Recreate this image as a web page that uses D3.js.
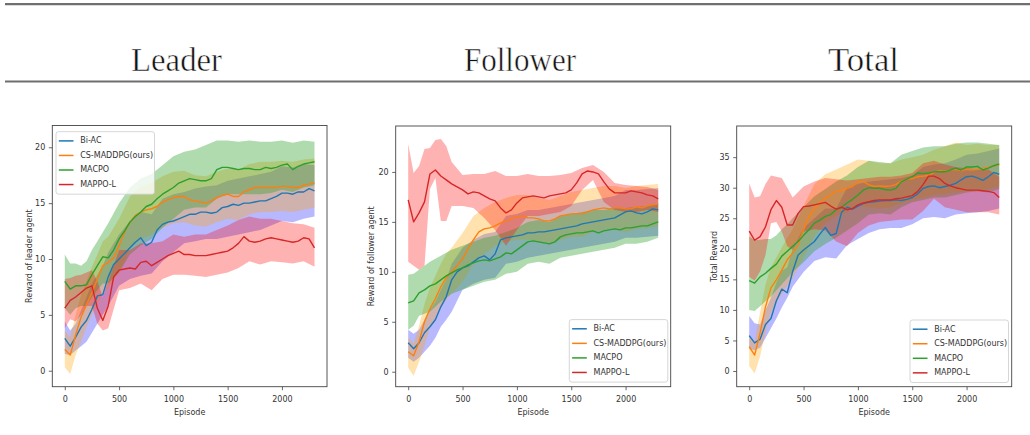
<!DOCTYPE html>
<html>
<head>
<meta charset="utf-8">
<script src="https://cdn.jsdelivr.net/npm/d3@7"></script>
<style>
  html, body { margin: 0; padding: 0; background: #ffffff; }
  svg { display: block; }
</style>
</head>
<body>
<svg id="chart" width="1030" height="435"></svg>
<script>
// ---------------------------------------------------------------
// Data
// ---------------------------------------------------------------
const seriesNames = ["Bi-AC", "CS-MADDPG(ours)", "MACPO", "MAPPO-L"];
const panelTitles = ["Leader", "Follower", "Total"];
const yLabels = ["Reward of leader agent", "Reward of follower agent", "Total Reward"];

const xTicks = [0, 500, 1000, 1500, 2000];
const yTicksLeader = [0, 5, 10, 15, 20];
const yTicksFollower = [0, 5, 10, 15, 20];
const yTicksTotal = [0, 5, 10, 15, 20, 25, 30, 35];

// episodes at which the smoothed means are sampled
const episodes = [0, 50, 100, 150, 200, 250, 300, 350, 400, 450, 500, 550, 600, 650, 700, 750,
  800, 850, 900, 950, 1000, 1050, 1100, 1150, 1200, 1250, 1300, 1350, 1400, 1450, 1500, 1550,
  1600, 1650, 1700, 1750, 1800, 1850, 1900, 1950, 2000, 2050, 2100, 2150, 2200, 2250, 2300];

// episodes at which the spread bands are sampled
const bandEpisodes = [0, 50, 100, 150, 200, 250, 300, 350, 400, 500, 600, 700, 800, 900, 1000,
  1100, 1200, 1300, 1400, 1500, 1600, 1700, 1800, 1900, 2000, 2100, 2200, 2300];

// ---- Leader ----
const leaderBiAC = [2.9, 2.2, 3.0, 3.9, 4.5, 5.5, 6.7, 6.8, 8.4, 9.5, 10.0, 10.5, 11.0, 11.5, 11.9, 11.2,
  11.5, 12.6, 13.1, 13.3, 13.4, 13.6, 13.8, 14.0, 14.0, 14.2, 14.2, 14.1, 14.2, 14.6, 14.7, 14.9,
  14.8, 15.0, 15.0, 15.1, 15.2, 15.2, 15.4, 15.6, 15.9, 15.9, 15.8, 16.0, 16.0, 16.3, 16.1];
const leaderCS = [1.9, 1.4, 3.2, 4.8, 5.9, 7.0, 8.2, 9.4, 9.7, 10.1, 11.2, 12.4, 13.3, 13.9, 14.2, 14.4,
  14.5, 14.7, 15.1, 15.3, 15.5, 15.6, 15.6, 15.3, 15.2, 15.1, 15.0, 15.2, 15.5, 15.7, 15.8, 15.6,
  15.6, 16.0, 16.2, 16.4, 16.4, 16.4, 16.4, 16.4, 16.5, 16.5, 16.4, 16.4, 16.6, 16.7, 16.8];
const leaderMACPO = [8.0, 7.3, 7.6, 7.6, 7.7, 8.6, 9.4, 10.2, 10.1, 10.8, 11.8, 12.5, 13.3, 13.8, 14.2, 14.7,
  14.9, 15.4, 15.8, 16.1, 16.4, 16.8, 17.0, 17.2, 17.1, 17.0, 17.0, 17.2, 18.0, 18.2, 18.2, 18.1,
  18.0, 18.1, 18.1, 18.0, 18.0, 18.2, 18.1, 18.2, 18.4, 18.5, 18.0, 18.3, 18.5, 18.6, 18.7];
const leaderMAPPO = [5.6, 6.3, 6.6, 7.0, 7.4, 7.6, 5.6, 4.5, 5.8, 8.4, 9.0, 9.1, 9.2, 9.1, 9.7, 9.8,
  9.4, 9.7, 10.0, 10.3, 10.5, 10.7, 10.4, 10.4, 10.3, 10.3, 10.3, 10.4, 10.5, 10.6, 10.7, 11.0,
  11.4, 12.0, 11.6, 11.5, 11.6, 11.8, 11.9, 11.8, 11.7, 11.6, 11.5, 11.6, 11.9, 11.8, 11.0];

const leaderBiACLow = [1.5, 1.4, 1.8, 2.2, 2.6, 3.4, 4.2, 5.0, 5.8, 7.6, 8.2, 8.5, 8.7, 9.8, 10.6,
  11.4, 11.6, 11.8, 11.8, 12.0, 12.2, 12.4, 12.6, 13.0, 13.4, 13.3, 13.6, 13.8];
const leaderBiACHigh = [4.4, 3.6, 4.2, 5.4, 6.6, 7.8, 8.6, 9.4, 10.6, 12.2, 13.4, 14.2, 14.0, 15.4, 15.8,
  16.0, 16.3, 16.5, 16.6, 17.0, 17.2, 17.4, 17.6, 17.8, 18.3, 18.2, 18.5, 18.4];
const leaderCSLow = [0.3, -0.3, 1.4, 2.6, 3.9, 5.0, 6.0, 7.0, 7.4, 8.8, 10.9, 11.8, 12.2, 12.8, 13.2,
  13.3, 13.0, 12.9, 13.3, 13.6, 13.5, 14.0, 14.2, 14.2, 14.3, 14.2, 14.4, 14.6];
const leaderCSHigh = [3.6, 3.0, 5.0, 6.8, 8.0, 9.3, 10.4, 11.6, 12.0, 13.6, 15.6, 16.5, 16.8, 17.4, 17.8,
  17.9, 17.5, 17.4, 17.8, 18.1, 18.0, 18.5, 18.7, 18.7, 18.8, 18.7, 18.9, 19.0];
const leaderMACPOLow = [5.6, 5.0, 5.6, 5.8, 5.8, 6.6, 7.2, 7.8, 7.8, 8.8, 10.4, 11.2, 11.8, 12.8, 13.6,
  14.4, 14.6, 14.6, 15.4, 15.8, 15.8, 15.8, 15.8, 15.9, 16.2, 16.0, 16.4, 16.6];
const leaderMACPOHigh = [10.4, 9.6, 9.6, 9.4, 9.8, 10.8, 11.6, 12.4, 13.2, 15.0, 16.4, 17.2, 17.6, 18.4, 19.2,
  19.6, 19.8, 20.2, 20.6, 20.6, 20.5, 20.6, 20.5, 20.5, 20.6, 20.4, 20.6, 20.5];
const leaderMAPPOLow = [3.8, 4.6, 4.4, 5.0, 5.8, 5.8, 4.2, 3.6, 3.8, 7.2, 7.4, 7.8, 7.2, 8.2, 8.6,
  8.6, 8.5, 8.4, 8.6, 8.8, 9.2, 9.8, 9.5, 9.8, 9.7, 9.6, 9.8, 9.3];
const leaderMAPPOHigh = [8.2, 8.3, 8.5, 8.6, 8.8, 9.0, 8.0, 6.6, 8.0, 10.8, 10.8, 11.4, 11.4, 11.6, 12.2,
  12.0, 12.2, 12.2, 12.6, 13.0, 13.5, 13.8, 13.6, 13.6, 13.4, 13.2, 13.1, 12.8];

// ---- Follower ----
const followerBiAC = [2.9, 2.3, 2.9, 3.9, 4.5, 5.2, 6.5, 7.5, 9.2, 10.0, 10.4, 10.6, 11.0, 11.4, 11.6, 11.2,
  11.8, 13.2, 13.4, 13.5, 13.6, 13.7, 13.9, 13.9, 14.0, 14.0, 14.1, 14.2, 14.3, 14.4, 14.5, 14.6,
  14.8, 14.9, 15.0, 15.1, 15.2, 15.3, 15.4, 15.7, 16.0, 16.1, 15.9, 15.8, 16.0, 16.3, 16.2];
const followerCS = [2.0, 1.6, 3.0, 5.0, 6.3, 7.3, 8.5, 9.4, 10.0, 10.6, 11.3, 12.3, 13.2, 14.0, 14.3, 14.4,
  14.6, 14.9, 15.1, 15.3, 15.5, 15.6, 15.4, 15.4, 15.3, 15.1, 15.1, 15.3, 15.6, 15.7, 15.8, 15.8,
  15.8, 16.0, 16.2, 16.3, 16.4, 16.3, 16.4, 16.4, 16.3, 16.3, 16.5, 16.4, 16.6, 16.7, 16.8];
const followerMACPO = [6.9, 7.1, 7.9, 8.2, 8.6, 8.8, 9.2, 9.6, 9.9, 10.2, 10.4, 10.7, 10.9, 11.1, 11.2, 11.1,
  11.3, 11.5, 11.9, 11.8, 12.2, 12.6, 13.0, 13.1, 13.0, 12.9, 12.8, 13.0, 13.5, 13.7, 13.8, 13.9,
  13.9, 14.0, 14.1, 13.9, 14.1, 14.2, 14.3, 14.2, 14.4, 14.4, 14.5, 14.6, 14.6, 14.8, 15.0];
const followerMAPPO = [17.2, 15.0, 15.9, 17.0, 19.8, 20.2, 19.6, 19.2, 18.8, 18.5, 18.2, 17.8, 18.0, 17.9, 17.6, 17.3,
  17.1, 16.4, 15.9, 16.2, 16.9, 17.4, 17.5, 17.6, 17.5, 17.4, 17.6, 17.7, 17.8, 17.9, 18.2, 18.9,
  19.8, 20.1, 20.0, 19.8, 19.0, 18.3, 17.9, 17.9, 17.9, 18.1, 18.0, 17.9, 17.7, 17.6, 17.3];

const followerBiACLow = [1.4, 1.0, 1.4, 2.0, 2.6, 3.4, 4.5, 5.2, 6.0, 8.2, 8.8, 9.2, 9.4, 10.8, 11.0,
  11.4, 11.6, 11.8, 12.0, 12.2, 12.4, 12.6, 12.8, 13.0, 13.4, 13.4, 13.5, 13.6];
const followerBiACHigh = [4.2, 3.8, 4.2, 5.2, 6.2, 7.0, 8.2, 9.2, 10.8, 12.4, 13.2, 13.8, 14.0, 15.6, 15.8,
  16.2, 16.2, 16.4, 16.6, 16.8, 17.0, 17.2, 17.4, 17.6, 18.2, 18.2, 18.3, 18.4];
const followerCSLow = [0.4, -0.4, 1.0, 2.6, 4.4, 5.4, 6.4, 7.2, 7.8, 9.0, 10.8, 11.8, 12.6, 13.0, 13.2,
  13.2, 13.0, 12.8, 13.2, 13.5, 13.5, 14.0, 14.2, 14.3, 14.0, 14.3, 14.4, 14.6];
const followerCSHigh = [3.4, 2.8, 4.6, 6.8, 8.4, 9.6, 10.8, 11.8, 12.4, 13.9, 15.6, 16.4, 17.0, 17.4, 17.7,
  17.7, 17.4, 17.2, 17.6, 18.0, 18.2, 18.4, 18.6, 18.6, 18.4, 18.6, 18.7, 18.8];
const followerMACPOLow = [4.2, 4.6, 5.6, 5.8, 6.0, 6.5, 7.0, 7.4, 7.8, 8.2, 8.6, 9.0, 9.2, 9.8, 10.0,
  10.8, 11.0, 10.8, 11.4, 11.6, 11.8, 12.0, 12.2, 12.4, 12.8, 12.8, 13.0, 13.4];
const followerMACPOHigh = [9.7, 9.8, 10.2, 10.6, 11.0, 11.3, 11.6, 11.9, 12.2, 12.6, 13.0, 13.4, 13.6, 14.0, 14.4,
  15.0, 15.2, 15.0, 15.6, 15.8, 16.0, 16.2, 16.2, 16.4, 16.4, 16.5, 16.6, 16.8];
const followerMAPPOLow = [11.0, 10.6, 10.2, 10.6, 18.3, 19.4, 15.1, 15.1, 16.6, 16.6, 16.4, 15.4, 14.2, 12.6, 14.2,
  15.6, 15.6, 15.8, 16.0, 16.6, 18.2, 19.2, 17.0, 16.2, 16.0, 16.0, 16.2, 16.0];
const followerMAPPOHigh = [22.8, 19.9, 20.6, 22.3, 22.4, 23.2, 23.3, 22.6, 21.0, 19.7, 19.8, 19.8, 20.1, 19.6, 19.6,
  19.8, 19.6, 19.6, 19.7, 19.9, 20.4, 20.7, 20.0, 18.9, 18.7, 18.6, 18.5, 18.2];

// ---- Total ----
const totalBiAC = [5.8, 4.6, 5.2, 7.6, 8.6, 11.5, 13.4, 12.8, 16.3, 19.0, 19.8, 20.5, 21.2, 22.4, 23.5, 22.2,
  22.5, 26.0, 26.8, 26.5, 27.0, 27.4, 27.6, 27.7, 27.8, 27.9, 27.9, 28.0, 27.9, 28.1, 28.4, 29.0,
  29.9, 30.2, 30.3, 30.0, 30.2, 30.4, 30.7, 31.3, 31.8, 31.9, 31.6, 31.2, 31.8, 32.5, 32.2];
const totalCS = [4.0, 2.6, 6.2, 10.5, 13.6, 14.9, 16.5, 18.2, 19.3, 20.6, 23.1, 25.3, 26.6, 27.5, 28.3, 28.8,
  29.4, 29.5, 29.9, 30.2, 31.0, 31.0, 30.5, 30.2, 30.3, 30.2, 30.3, 30.5, 31.1, 31.4, 31.5, 31.8,
  31.9, 32.0, 32.5, 32.8, 32.7, 32.9, 33.0, 32.8, 33.0, 32.9, 33.0, 33.2, 33.3, 33.6, 33.8];
const totalMACPO = [14.8, 14.4, 15.4, 16.0, 16.8, 17.5, 18.8, 19.6, 20.4, 21.2, 22.2, 23.1, 24.2, 24.7, 25.3, 25.6,
  26.4, 26.8, 27.5, 28.1, 28.8, 29.6, 30.0, 29.9, 29.9, 29.7, 29.6, 29.9, 31.0, 31.4, 31.8, 32.4,
  32.3, 32.4, 32.6, 32.6, 32.6, 32.9, 33.2, 32.9, 33.4, 33.4, 33.5, 32.9, 33.2, 33.6, 33.9];
const totalMAPPO = [22.9, 21.4, 22.0, 23.6, 26.4, 27.9, 26.8, 23.9, 23.9, 25.8, 26.9, 27.0, 27.2, 27.4, 27.6, 27.0,
  26.5, 26.8, 26.4, 26.6, 27.2, 27.5, 27.7, 27.9, 28.0, 28.0, 28.0, 28.2, 28.3, 28.5, 28.7, 29.4,
  30.5, 31.9, 31.9, 31.5, 30.7, 30.3, 30.0, 29.8, 29.6, 29.6, 29.6, 29.5, 29.4, 29.2, 28.4];

const totalBiACLow = [3.6, 3.4, 3.8, 5.4, 7.0, 8.6, 10.4, 12.0, 13.8, 16.2, 18.0, 18.6, 18.4, 20.6, 21.6,
  22.6, 23.2, 23.4, 23.4, 24.0, 25.0, 25.2, 25.0, 25.6, 25.8, 26.0, 26.2, 26.6];
const totalBiACHigh = [9.0, 7.8, 7.6, 10.0, 12.0, 14.5, 16.4, 17.0, 20.0, 23.4, 25.0, 26.6, 26.6, 30.0, 30.6,
  31.0, 31.2, 31.4, 31.6, 32.0, 33.4, 33.8, 34.0, 34.6, 35.4, 35.6, 36.0, 36.4];
const totalCSLow = [0.8, -0.4, 2.4, 6.4, 9.6, 11.2, 12.6, 14.0, 15.2, 18.6, 22.0, 24.2, 25.4, 26.0, 27.0,
  26.8, 26.6, 26.8, 27.4, 28.0, 28.4, 28.8, 29.0, 29.2, 29.4, 29.4, 29.8, 30.2];
const totalCSHigh = [5.6, 4.8, 9.6, 14.2, 17.0, 18.6, 20.2, 21.8, 23.2, 27.0, 30.6, 32.2, 33.0, 33.8, 34.6,
  34.4, 34.0, 34.0, 34.6, 35.0, 35.4, 36.2, 36.8, 37.4, 37.0, 37.2, 37.0, 37.0];
const totalMACPOLow = [10.0, 9.8, 10.6, 11.4, 12.2, 13.2, 14.2, 15.2, 16.2, 17.8, 19.6, 20.8, 21.8, 23.0, 24.2,
  25.6, 25.8, 25.6, 26.8, 27.6, 28.0, 28.4, 28.4, 28.8, 29.2, 29.4, 29.2, 29.8];
const totalMACPOHigh = [22.0, 21.4, 21.5, 21.6, 21.6, 22.2, 23.2, 24.0, 25.0, 26.8, 28.6, 29.8, 31.0, 32.0, 33.4,
  34.4, 34.2, 34.0, 35.4, 36.0, 36.6, 36.8, 36.8, 37.2, 37.4, 37.4, 37.2, 37.0];
const totalMAPPOLow = [15.4, 14.8, 16.3, 19.0, 24.2, 24.4, 22.8, 20.4, 19.8, 22.8, 23.2, 23.0, 21.2, 20.4, 22.6,
  23.8, 24.4, 24.6, 24.8, 24.8, 26.2, 28.2, 26.8, 26.4, 26.0, 26.0, 26.0, 25.6];
const totalMAPPOHigh = [30.7, 28.4, 28.6, 30.6, 32.0, 31.8, 31.6, 30.0, 28.4, 30.2, 31.0, 31.6, 31.4, 31.2, 31.4,
  31.6, 31.8, 31.8, 32.0, 32.4, 34.0, 34.4, 33.8, 33.4, 33.2, 33.0, 33.0, 31.8];

// ---------------------------------------------------------------
// Styling and layout
// ---------------------------------------------------------------
const lineColors = ["#1f77b4", "#ff7f0e", "#2ca02c", "#d62728"];
const bandColors = ["#0000ff", "#ffa500", "#2ca02c", "#ff0000"];
const bandOpacity = [0.28, 0.32, 0.38, 0.3];

const sansFont = "'DejaVu Sans', sans-serif";
const serifFont = "'Liberation Serif', 'DejaVu Serif', serif";
const textColor = "#333333";

const panels = [
  {
    title: panelTitles[0], titleX: 176.5, titleW: 91, ylabel: yLabels[0], yTicks: yTicksLeader,
    box: { x0: 52.3, x1: 327, y0: 125.5, y1: 386.7 }, yDomain: [-1.43, 21.95],
    legend: { x: 56, y: 131.7 }, ylabelX: 29.3,
    series: [
      { mean: leaderBiAC, low: leaderBiACLow, high: leaderBiACHigh },
      { mean: leaderCS, low: leaderCSLow, high: leaderCSHigh },
      { mean: leaderMACPO, low: leaderMACPOLow, high: leaderMACPOHigh },
      { mean: leaderMAPPO, low: leaderMAPPOLow, high: leaderMAPPOHigh }
    ]
  },
  {
    title: panelTitles[1], titleX: 520, titleW: 112, ylabel: yLabels[1], yTicks: yTicksFollower,
    box: { x0: 395.7, x1: 670.7, y0: 126, y1: 386.7 }, yDomain: [-1.5, 24.6],
    legend: { x: 569.3, y: 319.6 }, ylabelX: 371.7,
    series: [
      { mean: followerBiAC, low: followerBiACLow, high: followerBiACHigh },
      { mean: followerCS, low: followerCSLow, high: followerCSHigh },
      { mean: followerMACPO, low: followerMACPOLow, high: followerMACPOHigh },
      { mean: followerMAPPO, low: followerMAPPOLow, high: followerMAPPOHigh }
    ]
  },
  {
    title: panelTitles[2], titleX: 863.5, titleW: 71, ylabel: yLabels[2], yTicks: yTicksTotal,
    box: { x0: 736.7, x1: 1011.7, y0: 126, y1: 386.7 }, yDomain: [-2.57, 40.1],
    legend: { x: 910, y: 320 }, ylabelX: 714.3,
    series: [
      { mean: totalBiAC, low: totalBiACLow, high: totalBiACHigh },
      { mean: totalCS, low: totalCSLow, high: totalCSHigh },
      { mean: totalMACPO, low: totalMACPOLow, high: totalMACPOHigh },
      { mean: totalMAPPO, low: totalMAPPOLow, high: totalMAPPOHigh }
    ]
  }
];

const xDomain = [-115, 2415];

// ---------------------------------------------------------------
// Drawing
// ---------------------------------------------------------------
const svg = d3.select("#chart");

// header rules
svg.append("line")
  .attr("x1", 5).attr("x2", 1030).attr("y1", 4.2).attr("y2", 4.2)
  .attr("stroke", "#6f6f6f").attr("stroke-width", 2.2);
svg.append("line")
  .attr("x1", 5).attr("x2", 1030).attr("y1", 81.6).attr("y2", 81.6)
  .attr("stroke", "#6f6f6f").attr("stroke-width", 2.0);

panels.forEach((p, pi) => {
  const g = svg.append("g");
  const b = p.box;

  // column title (a thin white outline keeps the strokes light)
  svg.append("text")
    .attr("x", p.titleX).attr("y", 70.6)
    .attr("text-anchor", "middle")
    .attr("font-family", serifFont)
    .attr("font-size", 33)
    .attr("fill", "#111111")
    .attr("stroke", "#ffffff")
    .attr("stroke-width", 0.5)
    .attr("textLength", p.titleW)
    .attr("lengthAdjust", "spacingAndGlyphs")
    .text(p.title);

  const x = d3.scaleLinear().domain(xDomain).range([b.x0, b.x1]);
  const y = d3.scaleLinear().domain(p.yDomain).range([b.y1, b.y0]);

  const clipId = "clip" + pi;
  g.append("clipPath").attr("id", clipId)
    .append("rect")
    .attr("x", b.x0).attr("y", b.y0)
    .attr("width", b.x1 - b.x0).attr("height", b.y1 - b.y0);

  const plot = g.append("g").attr("clip-path", `url(#${clipId})`);

  // spread bands
  p.series.forEach((s, i) => {
    const area = d3.area()
      .x((d, k) => x(bandEpisodes[k]))
      .y0((d, k) => y(s.low[k]))
      .y1((d, k) => y(s.high[k]));
    plot.append("path")
      .datum(s.low)
      .attr("d", area)
      .attr("fill", bandColors[i])
      .attr("fill-opacity", bandOpacity[i])
      .attr("stroke", "none");
  });

  // mean curves
  p.series.forEach((s, i) => {
    const line = d3.line()
      .x((d, k) => x(episodes[k]))
      .y(d => y(d));
    plot.append("path")
      .datum(s.mean)
      .attr("d", line)
      .attr("fill", "none")
      .attr("stroke", lineColors[i])
      .attr("stroke-width", 1.4)
      .attr("stroke-linejoin", "round");
  });

  // axes
  const xAxis = g.append("g")
    .attr("transform", `translate(0,${b.y1})`)
    .call(d3.axisBottom(x).tickValues(xTicks).tickSize(3.5).tickPadding(6.5).tickFormat(d3.format("d")));
  const yAxis = g.append("g")
    .attr("transform", `translate(${b.x0},0)`)
    .call(d3.axisLeft(y).tickValues(p.yTicks).tickSize(3.5).tickPadding(3.5).tickFormat(d3.format("d")));

  [xAxis, yAxis].forEach(ax => {
    ax.select(".domain").remove();
    ax.selectAll(".tick line").attr("stroke", "#444444").attr("stroke-width", 0.8);
    ax.selectAll(".tick text")
      .attr("fill", textColor)
      .attr("font-family", sansFont)
      .attr("font-size", 8);
  });

  // frame
  g.append("rect")
    .attr("x", b.x0).attr("y", b.y0)
    .attr("width", b.x1 - b.x0).attr("height", b.y1 - b.y0)
    .attr("fill", "none")
    .attr("stroke", "#444444")
    .attr("stroke-width", 0.9);

  // axis labels
  g.append("text")
    .attr("x", (b.x0 + b.x1) / 2).attr("y", 412.3)
    .attr("text-anchor", "middle")
    .attr("dominant-baseline", "central")
    .attr("font-family", sansFont).attr("font-size", 8)
    .attr("fill", textColor)
    .text("Episode");

  g.append("text")
    .attr("transform", `translate(${p.ylabelX},${(b.y0 + b.y1) / 2}) rotate(-90)`)
    .attr("text-anchor", "middle")
    .attr("dominant-baseline", "central")
    .attr("font-family", sansFont).attr("font-size", 8)
    .attr("fill", textColor)
    .text(p.ylabel);

  // legend
  const lg = g.append("g").attr("transform", `translate(${p.legend.x},${p.legend.y})`);
  lg.append("rect")
    .attr("x", 0).attr("y", 0)
    .attr("width", 98.5).attr("height", 62.5)
    .attr("rx", 2.5).attr("ry", 2.5)
    .attr("fill", "#ffffff").attr("fill-opacity", 0.8)
    .attr("stroke", "#cccccc").attr("stroke-width", 0.8);

  seriesNames.forEach((name, i) => {
    const ry = 9.2 + 14.55 * i;
    lg.append("line")
      .attr("x1", 2.8).attr("x2", 17.5)
      .attr("y1", ry).attr("y2", ry)
      .attr("stroke", lineColors[i]).attr("stroke-width", 1.5);
    lg.append("text")
      .attr("x", 24.2).attr("y", ry)
      .attr("dominant-baseline", "central")
      .attr("font-family", sansFont).attr("font-size", 8)
      .attr("fill", textColor)
      .text(name);
  });
});
</script>
</body>
</html>
